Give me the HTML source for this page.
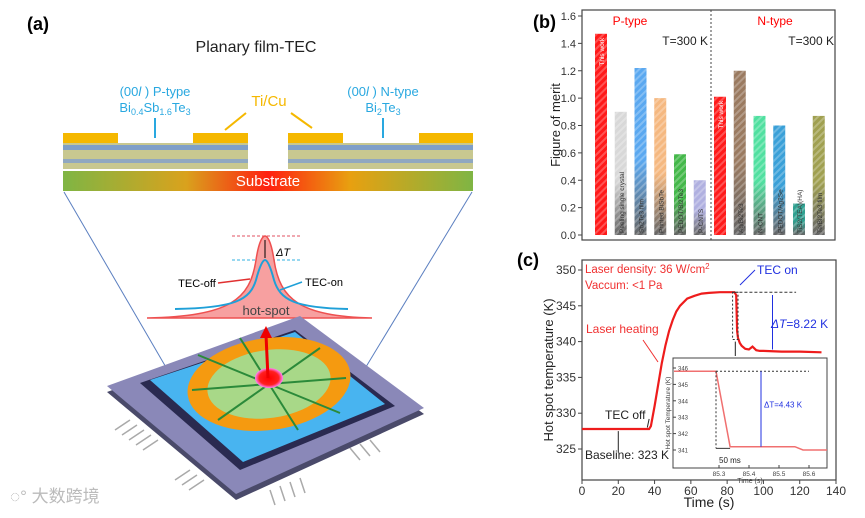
<!DOCTYPE html>
<html><head><meta charset="utf-8"><style>
body{margin:0;background:#fff;width:865px;height:513px;overflow:hidden;font-family:"Liberation Sans","Noto Sans CJK SC",sans-serif}
svg text{font-family:"Liberation Sans","Noto Sans CJK SC",sans-serif}
</style></head><body>
<svg id="s" width="865" height="513" viewBox="0 0 865 513" xmlns="http://www.w3.org/2000/svg">
<defs>
<linearGradient id="sub" x1="0" x2="1"><stop offset="0" stop-color="#7fb544"/><stop offset="0.3" stop-color="#d9a21d"/><stop offset="0.5" stop-color="#ff2010"/><stop offset="0.7" stop-color="#e8a010"/><stop offset="1" stop-color="#7fb544"/></linearGradient>
<pattern id="hatch" width="5" height="5" patternUnits="userSpaceOnUse" patternTransform="rotate(45)"><rect width="2" height="5" fill="rgba(255,255,255,0.25)"/></pattern>
<radialGradient id="spot"><stop offset="0" stop-color="#ff0000"/><stop offset="0.7" stop-color="#ff2020"/><stop offset="1" stop-color="#ff80ff"/></radialGradient>
</defs>

<!-- Panel (a) -->
<g>
<text x="27" y="30" font-size="18" font-weight="bold">(a)</text>
<text x="256" y="52" font-size="16" text-anchor="middle" fill="#222">Planary film-TEC</text>
<text x="155" y="96" font-size="13" text-anchor="middle" fill="#29a8e0">(00<tspan font-style="italic">l</tspan> ) P-type</text>
<text x="155" y="112" font-size="13" text-anchor="middle" fill="#29a8e0">Bi<tspan font-size="9" dy="3">0.4</tspan><tspan dy="-3">Sb</tspan><tspan font-size="9" dy="3">1.6</tspan><tspan dy="-3">Te</tspan><tspan font-size="9" dy="3">3</tspan></text>
<text x="383" y="96" font-size="13" text-anchor="middle" fill="#29a8e0">(00<tspan font-style="italic">l</tspan> ) N-type</text>
<text x="383" y="112" font-size="13" text-anchor="middle" fill="#29a8e0">Bi<tspan font-size="9" dy="3">2</tspan><tspan dy="-3">Te</tspan><tspan font-size="9" dy="3">3</tspan></text>
<text x="269" y="106" font-size="15" text-anchor="middle" fill="#f5b800">Ti/Cu</text>
<line x1="246" y1="113" x2="225" y2="130" stroke="#f5b800" stroke-width="2"/>
<line x1="291" y1="113" x2="312" y2="128" stroke="#f5b800" stroke-width="2"/>
<line x1="155" y1="118" x2="155" y2="138" stroke="#29a8e0" stroke-width="2"/>
<line x1="383" y1="118" x2="383" y2="138" stroke="#29a8e0" stroke-width="2"/>
<g>
<rect x="63" y="143" width="185" height="26" fill="#c8c890"/>
<rect x="288" y="143" width="185" height="26" fill="#c8c890"/>
<rect x="63" y="145" width="185" height="5" fill="#7f9fc8"/><rect x="288" y="145" width="185" height="5" fill="#7f9fc8"/>
<rect x="63" y="159" width="185" height="4" fill="#90a8c0"/><rect x="288" y="159" width="185" height="4" fill="#90a8c0"/>
</g>
<g fill="#f5b800">
<rect x="63" y="133" width="55" height="10"/><rect x="193" y="133" width="55" height="10"/>
<rect x="288" y="133" width="55" height="10"/><rect x="419" y="133" width="54" height="10"/>
</g>
<rect x="63" y="171" width="410" height="20" fill="url(#sub)"/>
<text x="268" y="186" font-size="15" text-anchor="middle" fill="#fff">Substrate</text>
<line x1="64" y1="192" x2="185" y2="400" stroke="#5b7fc0" stroke-width="1"/>
<line x1="472" y1="192" x2="355" y2="385" stroke="#5b7fc0" stroke-width="1"/>
<g>
<line x1="232" y1="236" x2="302" y2="236" stroke="#e05060" stroke-dasharray="3,2"/>
<line x1="232" y1="260" x2="302" y2="260" stroke="#30b0e0" stroke-dasharray="3,2"/>
<path d="M147,318 C230,316 250,300 256,260 C259,240 263,236 265,236 C267,236 271,240 274,260 C280,300 300,316 372,318 Z" fill="#f7a0a0" stroke="#ee5050" stroke-width="1.5"/>
<path d="M175,309 C235,308 250,300 256,280 C260,265 263,260 265,260 C267,260 270,265 274,280 C280,300 295,308 348,309" fill="none" stroke="#1fa0d8" stroke-width="2"/>
<line x1="265" y1="240" x2="265" y2="258" stroke="#000" stroke-width="1"/>
<text x="276" y="256" font-size="11" font-style="italic">ΔT</text>
<text x="197" y="287" font-size="11" text-anchor="middle">TEC-off</text>
<line x1="218" y1="283" x2="250" y2="279" stroke="#e03030" stroke-width="1.5"/>
<text x="324" y="286" font-size="11" text-anchor="middle">TEC-on</text>
<line x1="302" y1="282" x2="280" y2="290" stroke="#1fa0d8" stroke-width="1.5"/>
<text x="266" y="315" font-size="13" text-anchor="middle" fill="#444">hot-spot</text>
</g>
<g>
<g stroke="#aaa" stroke-width="1.5">
<path d="M130,420 l-15,10 M137,425 l-15,10 M144,430 l-15,10 M151,435 l-15,10 M158,440 l-15,10 M190,470 l-15,10 M197,475 l-15,10 M204,480 l-15,10 M270,490 l5,15 M280,486 l5,15 M290,482 l5,15 M300,478 l5,15 M350,448 l10,12 M360,444 l10,12 M370,440 l10,12"/>
</g>
<polygon points="107,392 300,322 424,414 236,500" fill="#4a4a6a"/>
<polygon points="107,386 300,316 424,408 236,494" fill="#8a88b8"/>
<polygon points="140,383 295,330 395,406 240,470" fill="#2a2a50"/>
<polygon points="150,380 295,332 385,404 243,462" fill="#48b4f0"/>
<ellipse cx="269" cy="384" rx="82" ry="46" fill="#f59a10" transform="rotate(-8 269 384)"/>
<ellipse cx="269" cy="384" rx="62" ry="34" fill="#a8d888" transform="rotate(-8 269 384)"/>
<g stroke="#2b8a3a" stroke-width="2">
<line x1="269" y1="384" x2="198" y2="355"/><line x1="269" y1="384" x2="340" y2="413"/>
<line x1="269" y1="384" x2="240" y2="338"/><line x1="269" y1="384" x2="298" y2="430"/>
<line x1="269" y1="384" x2="320" y2="348"/><line x1="269" y1="384" x2="218" y2="420"/>
<line x1="269" y1="384" x2="346" y2="378"/><line x1="269" y1="384" x2="192" y2="390"/>
</g>
<ellipse cx="269" cy="378" rx="14" ry="10" fill="url(#spot)"/>
<line x1="268" y1="378" x2="266" y2="335" stroke="#e00" stroke-width="3"/>
<polygon points="260,338 266,326 272,338" fill="#e00"/>
</g>
<text x="10" y="502" font-size="17" fill="#bbb">◌° 大数跨境</text>
</g>

<!-- Panel (b) -->
<g id="pb">
<text x="533" y="28" font-size="18" font-weight="bold">(b)</text>
<text transform="translate(560,125) rotate(-90)" font-size="13" text-anchor="middle" fill="#222">Figure of merit</text>
<text x="630" y="25" font-size="12" text-anchor="middle" fill="#f00">P-type</text>
<text x="775" y="25" font-size="12" text-anchor="middle" fill="#f00">N-type</text>
<text x="708" y="45" font-size="12" text-anchor="end" fill="#222">T=300 K</text>
<text x="834" y="45" font-size="12" text-anchor="end" fill="#222">T=300 K</text>
</g>

<!-- Panel (c) -->
<g id="pc">
<text x="517" y="266" font-size="18" font-weight="bold">(c)</text>
<text transform="translate(553,370) rotate(-90)" font-size="13" text-anchor="middle" fill="#222">Hot spot temperature (K)</text>
<text x="709" y="507" font-size="14" text-anchor="middle" fill="#222">Time (s)</text>
<text x="585" y="273" font-size="11.5" fill="#f03030">Laser density: 36 W/cm<tspan font-size="8" dy="-4">2</tspan></text>
<text x="585" y="289" font-size="11.5" fill="#f03030">Vaccum: &lt;1 Pa</text>
<text x="586" y="333" font-size="12" fill="#f03030">Laser heating</text>
<line x1="643" y1="340" x2="658" y2="362" stroke="#f03030" stroke-width="1"/>
<text x="757" y="274" font-size="12" fill="#2030e0">TEC on</text>
<line x1="755" y1="270" x2="740" y2="285" stroke="#2030e0" stroke-width="1"/>
<text x="771" y="328" font-size="12" fill="#2030e0"><tspan font-style="italic">ΔT</tspan>=8.22 K</text>
<text x="605" y="419" font-size="12" fill="#222">TEC off</text>
<text x="585" y="459" font-size="12" fill="#222">Baseline: 323 K</text>
</g>
</svg>
<script>
// ---- Chart (b) data ----
const barLabels = ["This work","Peeling single crystal","Sb2Te3 film","Printed BiSbTe","PEDOT/Bi2Te3","P-CNTS","This work","Ag/Bi2Te3","N-CNT","PEDOT/Ag2Se","TiS2(TEA)(HA)","Te/Bi2Te3 film"];
const barValues = [1.47,0.90,1.22,1.00,0.59,0.40,1.01,1.20,0.87,0.80,0.23,0.87];
const barColors = ["#ff1a1a","#d8d8d8","#5aa8f0","#f5b880","#44b84a","#b0b0e0","#ff1a1a","#9a7a60","#50e0a0","#3aa0d8","#30a090","#a0a050"];
const bTicks = [0.0,0.2,0.4,0.6,0.8,1.0,1.2,1.4,1.6];
// ---- Chart (c) data ----
const tData = [0,10,20,30,37,38,40,42,44,46,48,50,52,54,58,62,66,70,76,84,85,85.5,86,87,88,90,92,94,96,98,100,110,120,132];
const TData = [327.8,327.8,327.8,327.8,327.8,328.2,331,334,337,339.5,341.5,343,344.2,345,346,346.4,346.7,346.8,346.9,346.9,346.5,341.5,340.5,339.8,339.4,339,338.9,339.3,338.8,338.7,338.7,338.6,338.6,338.5];
const cXTicks = [0,20,40,60,80,100,120,140];
const cYTicks = [325,330,335,340,345,350];
const insetT = [85.15,85.2,85.25,85.29,85.337,85.4,85.5,85.553,85.58,85.62,85.66];
const insetV = [345.8,345.8,345.8,345.8,341.2,341.2,341.2,341.2,341.0,341.0,341.0];
const insetXTicks = [85.3,85.4,85.5,85.6];
const insetYTicks = [341,342,343,344,345,346];

const NS="http://www.w3.org/2000/svg";
function mk(tag,attrs,parent){const e=document.createElementNS(NS,tag);for(const k in attrs)e.setAttribute(k,attrs[k]);parent.appendChild(e);return e;}
const pb=document.getElementById('pb'), pc=document.getElementById('pc');

// Chart b axes
const bx0=582,bx1=835,by0=235,by1=16;
function bY(v){return by0-(v/1.6)*(by0-by1);}
function bX(i){const step=19.75;return i<6?601+i*step:720+(i-6)*step;}
let fr=mk('rect',{x:bx0,y:by1-6,width:bx1-bx0,height:by0-by1+11,fill:'none',stroke:'#444','stroke-width':1.2},pb);


bTicks.forEach(t=>{const y=bY(t);
 mk('line',{x1:bx0-4,y1:y,x2:bx0,y2:y,stroke:'#444'},pb);
 const tx=mk('text',{x:bx0-6,y:y+4,'font-size':11,'text-anchor':'end',fill:'#333'},pb);tx.textContent=t.toFixed(1);
 
 
});
const dv=mk('line',{x1:711,y1:by1-6,x2:711,y2:by0+5,stroke:'#444','stroke-dasharray':'2,2'},pb);


barValues.forEach((v,i)=>{const cx=bX(i),y=bY(v),w=12;
 const g=mk('linearGradient',{id:'g'+i,x1:0,y1:0,x2:0,y2:1},pb);
 mk('stop',{offset:0,'stop-color':barColors[i]},g);mk('stop',{offset:0.55,'stop-color':barColors[i]},g);mk('stop',{offset:1,'stop-color':i===0||i===6?barColors[i]:'#666'},g);
 const r=mk('rect',{x:cx-w/2,y:y,width:w,height:by0-y,fill:'url(#g'+i+')'},pb);
 
 
 mk('rect',{x:cx-w/2,y:y,width:w,height:by0-y,fill:'url(#hatch)'},pb);
 const lab=i===0||i===6?barLabels[i]:barLabels[i];
 const tx=mk('text',{transform:`translate(${cx+3},${i===0||i===6?y+4:by0-2}) rotate(-90)`,'font-size':6.5,'text-anchor':i===0||i===6?'end':'start',fill:i===0||i===6?'#fff':'#333'},pb);tx.textContent=lab;
 
 
});

// Chart c axes
const cx0=582,cx1=836,cy0=480,cy1=260;
function cX(t){return cx0+t/140*(cx1-cx0);}
function cY(v){return 449-(v-325)*7.16;}
fr=mk('rect',{x:cx0,y:cy1,width:cx1-cx0,height:cy0-cy1,fill:'none',stroke:'#444','stroke-width':1.2},pc);


cXTicks.forEach(t=>{const x=cX(t);mk('line',{x1:x,y1:cy0,x2:x,y2:cy0+4,stroke:'#444'},pc);
 const tx=mk('text',{x:x,y:cy0+15,'font-size':12,'text-anchor':'middle',fill:'#333'},pc);tx.textContent=t;
 
 });
cYTicks.forEach(v=>{const y=cY(v);mk('line',{x1:cx0-4,y1:y,x2:cx0,y2:y,stroke:'#444'},pc);
 const tx=mk('text',{x:cx0-6,y:y+4,'font-size':12,'text-anchor':'end',fill:'#333'},pc);tx.textContent=v;
 
 });
let d=tData.map((t,i)=>(i?'L':'M')+cX(t).toFixed(1)+','+cY(TData[i]).toFixed(1)).join(' ');
const ln=mk('path',{d:d,fill:'none',stroke:'#ee1c1c','stroke-width':2.2},pc);


mk('line',{x1:cX(84),y1:cY(346.9),x2:cX(118),y2:cY(346.9),stroke:'#333','stroke-dasharray':'3,2'},pc);
mk('rect',{x:cX(83),y:cY(346.9),width:cX(86)-cX(83),height:cY(340.3)-cY(346.9),fill:'none',stroke:'#333','stroke-dasharray':'2,2'},pc);
mk('line',{x1:cX(105),y1:cY(346.5),x2:cX(105),y2:cY(338.9),stroke:'#2030e0'},pc);
mk('line',{x1:cX(84.5),y1:cY(340),x2:cX(84.5),y2:356,stroke:'#222'},pc);
mk('line',{x1:cX(37),y1:cY(329.2),x2:cX(36),y2:cY(328),stroke:'#222'},pc);
mk('line',{x1:cX(20),y1:cY(324.5),x2:cX(20),y2:cY(327.5),stroke:'#222'},pc);
// inset
const ix0=673,ix1=827,iy0=468,iy1=358;
function iX(t){return 719+(t-85.3)*300;}
function iY(v){return 450-(v-341)*16.4;}
const ib=mk('rect',{x:ix0,y:iy1,width:ix1-ix0,height:iy0-iy1,fill:'#fff',stroke:'#444'},pc);


insetXTicks.forEach(t=>{const x=iX(t);mk('line',{x1:x,y1:iy0,x2:x,y2:iy0-3,stroke:'#444'},pc);
 const tx=mk('text',{x:x,y:iy0+8,'font-size':6.5,'text-anchor':'middle',fill:'#444'},pc);tx.textContent=t.toFixed(1);
 
 });
insetYTicks.forEach(v=>{const y=iY(v);mk('line',{x1:ix0,y1:y,x2:ix0+3,y2:y,stroke:'#444'},pc);
 const tx=mk('text',{x:ix0+5,y:y+2.5,'font-size':6,fill:'#444'},pc);tx.textContent=v;
 
 });
let t2=mk('text',{x:(ix0+ix1)/2,y:iy0+15,'font-size':7,'text-anchor':'middle',fill:'#444'},pc);t2.textContent='Time (s)';


t2=mk('text',{transform:`translate(${ix0-3},${(iy0+iy1)/2}) rotate(-90)`,'font-size':6.5,'text-anchor':'middle',fill:'#444'},pc);t2.textContent='Hot spot Temperature (K)';


d=insetT.map((t,i)=>(i?'L':'M')+iX(t).toFixed(1)+','+iY(insetV[i]).toFixed(1)).join(' ');
const il=mk('path',{d:d,fill:'none',stroke:'#f07070','stroke-width':1.5},pc);


mk('line',{x1:iX(85.29),y1:iY(345.8),x2:iX(85.6),y2:iY(345.8),stroke:'#333','stroke-dasharray':'2,2'},pc);
mk('line',{x1:iX(85.29),y1:iY(345.8),x2:iX(85.29),y2:iY(341.1),stroke:'#333','stroke-dasharray':'2,2'},pc);
mk('line',{x1:iX(85.29),y1:iY(341.1),x2:iX(85.337),y2:iY(341.1),stroke:'#333'},pc);
mk('line',{x1:iX(85.44),y1:iY(345.8),x2:iX(85.44),y2:iY(341.2),stroke:'#2030e0'},pc);
t2=mk('text',{x:iX(85.3),y:iY(341)+13,'font-size':8,fill:'#222'},pc);t2.textContent='50 ms';


t2=mk('text',{x:iX(85.45),y:iY(343.6),'font-size':8,fill:'#2030e0'},pc);t2.textContent='ΔT=4.43 K';


</script>
</body></html>
